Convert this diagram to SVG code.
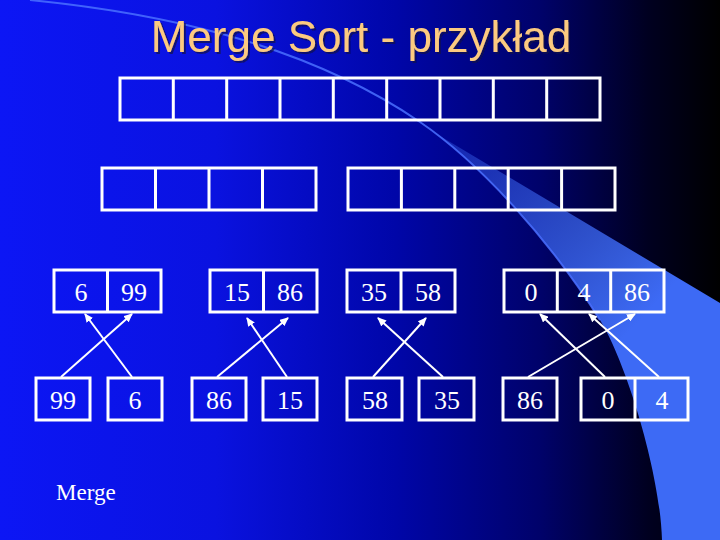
<svg xmlns="http://www.w3.org/2000/svg" width="720" height="540" viewBox="0 0 720 540">
<defs>
<linearGradient id="bg" x1="0" y1="0" x2="1" y2="0">
<stop offset="0" stop-color="#0C16F5"/>
<stop offset="0.3" stop-color="#0A12E0"/>
<stop offset="0.55" stop-color="#0006A8"/>
<stop offset="0.75" stop-color="#00026A"/>
<stop offset="0.9" stop-color="#000020"/>
<stop offset="1" stop-color="#000000"/>
</linearGradient>
<linearGradient id="wedge" gradientUnits="userSpaceOnUse" x1="440" y1="130" x2="640" y2="320">
<stop offset="0" stop-color="#3D6AF5" stop-opacity="0.3"/>
<stop offset="1" stop-color="#3D6AF5" stop-opacity="1"/>
</linearGradient>
<filter id="shadow" x="-5%" y="-20%" width="110%" height="140%">
<feDropShadow dx="2" dy="2" stdDeviation="0.6" flood-color="#10104A" flood-opacity="0.7"/>
</filter>
<marker id="ah" markerWidth="9" markerHeight="8" refX="8" refY="4" orient="auto" markerUnits="userSpaceOnUse">
<path d="M0,0 L9,4 L0,8 Z" fill="#FFFFFF"/>
</marker>
<style>
.box{fill:none;stroke:#FFFFFF;stroke-width:3}
.div{stroke:#FFFFFF;stroke-width:3}
.num{font-family:"Liberation Serif","Times New Roman",serif;font-size:26px;fill:#FFFFFF;text-anchor:middle}
.arr{stroke:#FFFFFF;stroke-width:2;fill:none;marker-end:url(#ah)}
</style>
</defs>
<rect x="0" y="0" width="720" height="540" fill="url(#bg)"/>
<path d="M420,122 C480,163 550,240 600,320 C625,360 660,470 662,540 L720,540 L720,303 L440,136 Z" fill="url(#wedge)"/>
<path d="M30,0 C150,12 300,40 420,122 C480,163 550,240 600,320" fill="none" stroke="#4A70FF" stroke-width="2" stroke-opacity="0.85"/>

<g id="title">
<text x="361" y="52" font-family="Liberation Sans, Arial, sans-serif" font-size="44" fill="#FCCA80" text-anchor="middle" filter="url(#shadow)">Merge Sort - przykład</text>
</g>

<g id="array-top">
<rect class="box" x="120" y="78" width="480" height="42"/>
<path class="div" d="M173.3,78V120M226.7,78V120M280,78V120M333.3,78V120M386.7,78V120M440,78V120M493.3,78V120M546.7,78V120"/>
</g>

<g id="array-left">
<rect class="box" x="102" y="168" width="214" height="42"/>
<path class="div" d="M155.5,168V210M209,168V210M262.5,168V210"/>
</g>

<g id="array-right">
<rect class="box" x="348" y="168" width="267" height="42"/>
<path class="div" d="M401.4,168V210M454.8,168V210M508.2,168V210M561.6,168V210"/>
</g>

<g id="m-6-99">
<rect class="box" x="54" y="270" width="107" height="42"/>
<path class="div" d="M107.5,270V312"/>
<text class="num" x="81" y="301">6</text>
<text class="num" x="134" y="301">99</text>
</g>
<g id="m-15-86">
<rect class="box" x="210" y="270" width="107" height="42"/>
<path class="div" d="M263.5,270V312"/>
<text class="num" x="237" y="301">15</text>
<text class="num" x="290" y="301">86</text>
</g>
<g id="m-35-58">
<rect class="box" x="347" y="270" width="108" height="42"/>
<path class="div" d="M401,270V312"/>
<text class="num" x="374" y="301">35</text>
<text class="num" x="428" y="301">58</text>
</g>
<g id="m-0-4-86">
<rect class="box" x="504" y="270" width="160" height="42"/>
<path class="div" d="M557.3,270V312M610.7,270V312"/>
<text class="num" x="531" y="301">0</text>
<text class="num" x="584" y="301">4</text>
<text class="num" x="637" y="301">86</text>
</g>

<g id="s-99">
<rect class="box" x="36" y="378" width="54" height="42"/>
<text class="num" x="63" y="409">99</text>
</g>
<g id="s-6">
<rect class="box" x="108" y="378" width="54" height="42"/>
<text class="num" x="135" y="409">6</text>
</g>
<g id="s-86a">
<rect class="box" x="192" y="378" width="54" height="42"/>
<text class="num" x="219" y="409">86</text>
</g>
<g id="s-15">
<rect class="box" x="263" y="378" width="54" height="42"/>
<text class="num" x="290" y="409">15</text>
</g>
<g id="s-58">
<rect class="box" x="347" y="378" width="55" height="42"/>
<text class="num" x="375" y="409">58</text>
</g>
<g id="s-35">
<rect class="box" x="419" y="378" width="55" height="42"/>
<text class="num" x="447" y="409">35</text>
</g>
<g id="s-86b">
<rect class="box" x="503" y="378" width="54" height="42"/>
<text class="num" x="530" y="409">86</text>
</g>
<g id="s-0-4">
<rect class="box" x="581" y="378" width="107" height="42"/>
<path class="div" d="M635,378V420"/>
<text class="num" x="608" y="409">0</text>
<text class="num" x="662" y="409">4</text>
</g>

<g id="connectors">
<path class="arr" d="M61,377L132,314"/>
<path class="arr" d="M132,377L85,314"/>
<path class="arr" d="M217,377L288,318"/>
<path class="arr" d="M287,377L247,318"/>
<path class="arr" d="M373,377L426,318"/>
<path class="arr" d="M443,377L378,318"/>
<path class="arr" d="M528,377L635,314"/>
<path class="arr" d="M605,377L540,314"/>
<path class="arr" d="M659,377L589,314"/>
</g>

<g id="label-merge">
<text x="56" y="500" font-family="Liberation Serif, Times New Roman, serif" font-size="23" fill="#FFFFFF">Merge</text>
</g>
</svg>
